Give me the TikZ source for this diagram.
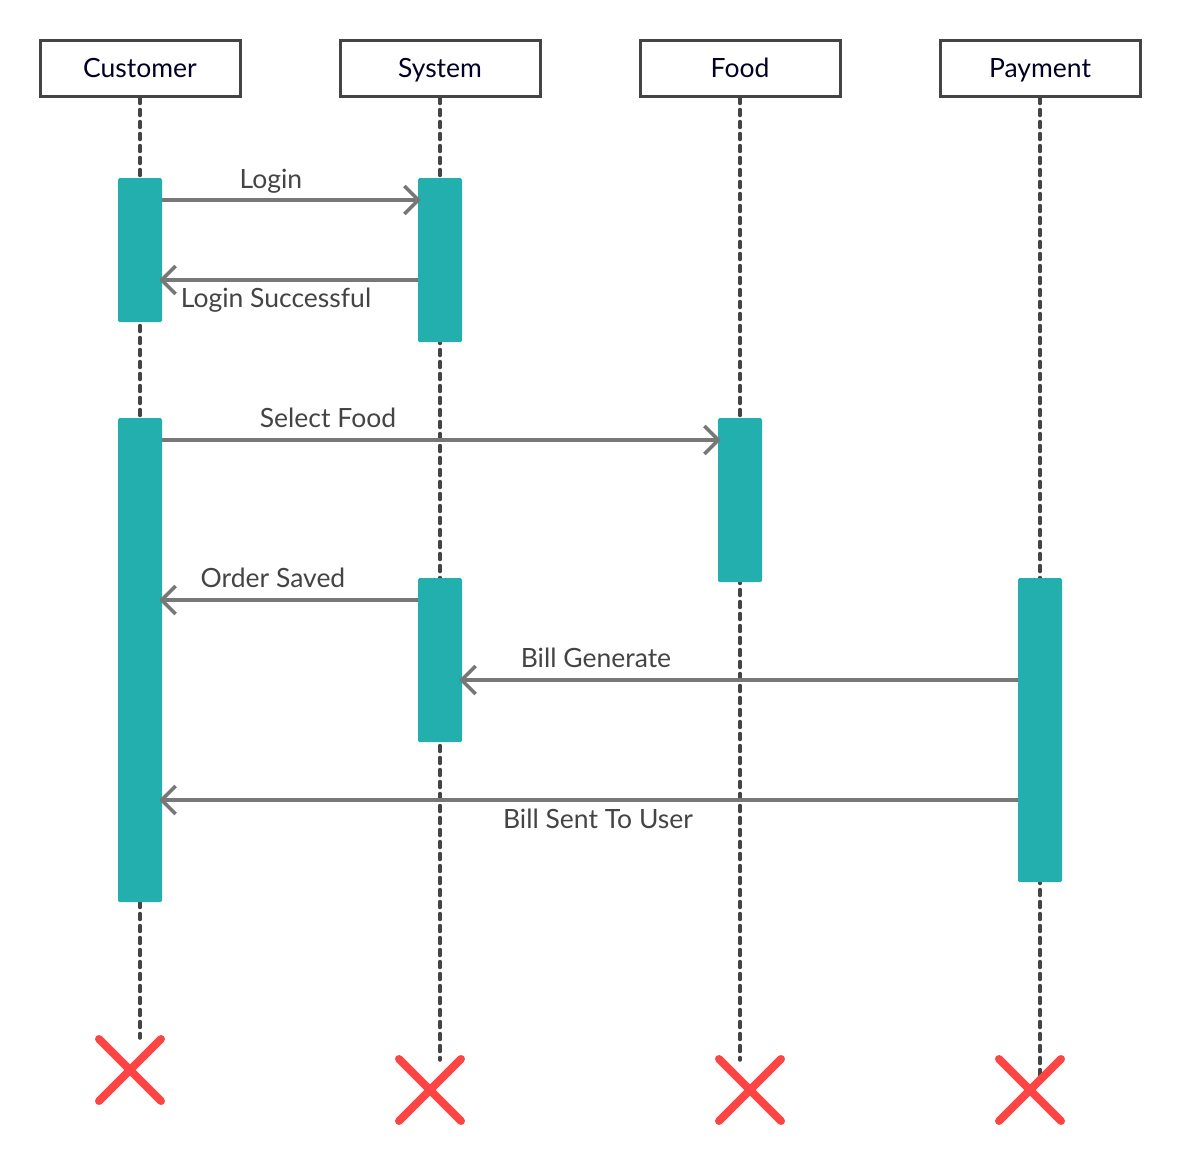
\documentclass[tikz,border=0pt]{standalone}
\usepackage{fontspec}
\setmainfont{Lato}
\usetikzlibrary{arrows.meta,calc}
\definecolor{barc}{HTML}{22AFAE}
\definecolor{hdr}{HTML}{444444}
\definecolor{msgc}{HTML}{777777}
\definecolor{txt}{HTML}{444444}
\definecolor{xred}{HTML}{FF4444}
\tikzset{
  header/.style={draw=hdr, line width=3pt, fill=white, minimum width=200pt, minimum height=56pt, inner sep=0pt, text height=22pt, text depth=3pt, text=black!85!blue, font=\fontsize{26.5}{30}\selectfont},
  bar/.style={fill=barc, draw=none, minimum width=44pt, inner sep=0pt, rounded corners=1.5pt, anchor=north},
  life/.style={draw=hdr, line width=3.5pt, dash pattern=on 6pt off 6pt, line cap=round},
  msg/.style={draw=msgc, line width=3.5pt, shorten >=-3pt, -{Straight Barb[length=14pt,width=28pt,line width=3.5pt]}},
  lbl/.style={text=txt, font=\fontsize{26.5}{30}\selectfont, inner sep=0pt, anchor=base},
  xmark/.style={draw=xred, line width=8pt, line cap=round}
}
\begin{document}
\begin{tikzpicture}[x=1pt,y=-1pt]
\useasboundingbox (0,0) rectangle (1180,1160);
% lifeline end points
\coordinate (ce) at (140,1038);
\coordinate (se) at (440,1060);
\coordinate (fe) at (740,1060);
\coordinate (pe) at (1040,1075);
% headers
\node[header] (cust) at (140,68) {Customer};
\node[header] (sys) at (440,68) {System};
\node[header] (food) at (740,68) {Food};
\node[header] (pay) at (1040,68) {Payment};
% lifelines
\draw[life] (cust.south) -- (ce);
\draw[life] (sys.south) -- (se);
\draw[life] (food.south) -- (fe);
\draw[life] (pay.south) -- (pe);
% activation bars
\node[bar, minimum height=144pt] (c1) at (140,178) {};
\node[bar, minimum height=164pt] (s1) at (440,178) {};
\node[bar, minimum height=484pt] (c2) at (140,418) {};
\node[bar, minimum height=164pt] (f1) at (740,418) {};
\node[bar, minimum height=164pt] (s2) at (440,578) {};
\node[bar, minimum height=304pt] (p1) at (1040,578) {};
% messages
\draw[msg] (c1.east |- 0,200) -- (s1.west |- 0,200);
\node[lbl] (l1) at (271,188) {Login};
\draw[msg] (s1.west |- 0,280) -- (c1.east |- 0,280);
\node[lbl] (l2) at (276,307) {Login Successful};
\draw[msg] (c2.east |- 0,440) -- (f1.west |- 0,440);
\node[lbl] (l3) at (328,427) {Select Food};
\draw[msg] (s2.west |- 0,600) -- (c2.east |- 0,600);
\node[lbl] (l4) at (273,587) {Order Saved};
\draw[msg] (p1.west |- 0,680) -- (s2.east |- 0,680);
\node[lbl] (l5) at (596,667) {Bill Generate};
\draw[msg] (p1.west |- 0,800) -- (c2.east |- 0,800);
\node[lbl] (l6) at (598,828) {Bill Sent To User};
% destruction marks
\foreach \n/\cx/\cy in {xc/130/1070, xs/430/1090, xf/750/1090, xp/1030/1090}{
  \coordinate (\n) at (\cx,\cy);
  \draw[xmark] ($(\n)+(-31,-31)$) -- ($(\n)+(31,31)$);
  \draw[xmark] ($(\n)+(-31,31)$) -- ($(\n)+(31,-31)$);
}
\end{tikzpicture}
\end{document}
